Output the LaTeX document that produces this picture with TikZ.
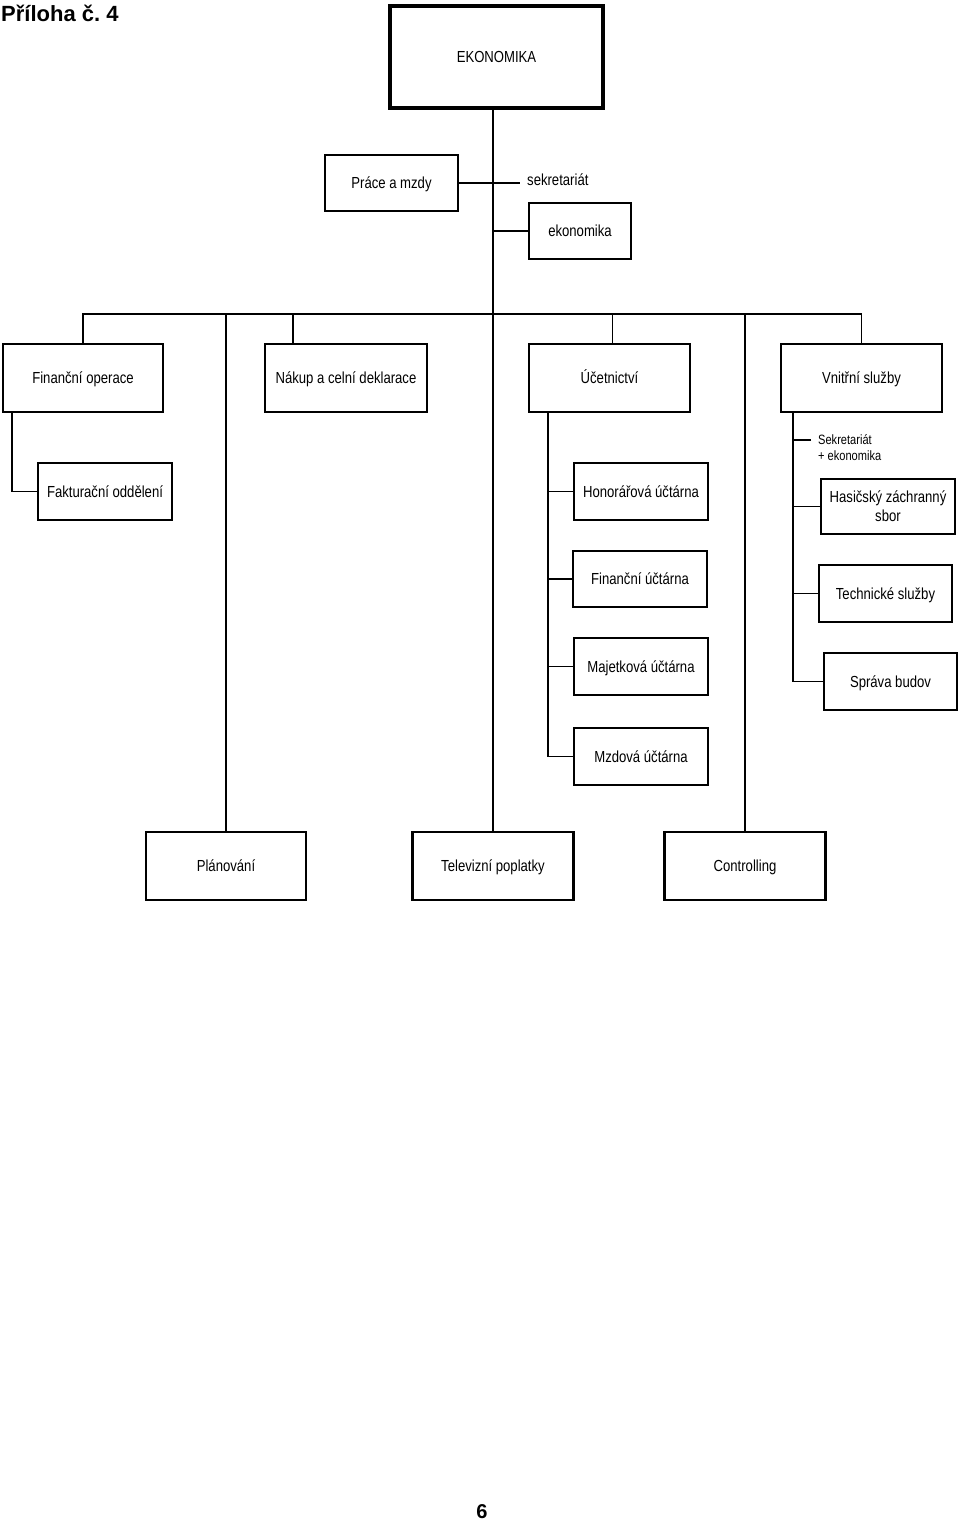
\documentclass[tikz,border=0pt]{standalone}
\usepackage{fontspec}
\setmainfont{Liberation Sans}[FakeStretch=0.82]
\newfontfamily\widefont{Liberation Sans}
\usepackage{tikz}
\frenchspacing

\tikzset{
    unit/.style={draw,line width=2.4pt,inner sep=0pt,align=center,text height=11.5pt,text depth=0pt,font=\fontsize{16}{19}\selectfont},
    link/.style={line width=1.4pt},
}

\begin{document}
\begin{tikzpicture}[x=1pt,y=-1pt]
    \useasboundingbox (0,0) rectangle (960,1523);
    \node[anchor=base west,inner sep=0pt,font=\widefont\bfseries\fontsize{22}{26}\selectfont] (title) at (1,21) {Příloha č. 4};
    \node[unit,line width=4pt,minimum width=213pt,minimum height=102pt] (eko) at (496.5,57) {EKONOMIKA};
    \node[unit,minimum width=133pt,minimum height=56pt] (prace) at (391.5,183) {Práce a mzdy};
    \node[anchor=west,inner sep=7pt,font=\fontsize{16}{19}\selectfont] (sekr) at (520,180) {sekretariát};
    \node[unit,minimum width=102pt,minimum height=56pt] (ekon) at (580,231) {ekonomika};
    \node[unit,minimum width=160pt,minimum height=68pt] (finop) at (83,378) {Finanční operace};
    \node[unit,minimum width=162pt,minimum height=68pt] (nakup) at (346,378) {Nákup a celní deklarace};
    \node[unit,minimum width=161pt,minimum height=68pt] (ucet) at (609.5,378) {Účetnictví};
    \node[unit,minimum width=161pt,minimum height=68pt] (vnitr) at (861.5,378) {Vnitřní služby};
    \node[unit,minimum width=134pt,minimum height=57pt] (fakt) at (105,491.5) {Fakturační oddělení};
    \node[unit,minimum width=134pt,minimum height=57pt] (honor) at (641,491.5) {Honorářová účtárna};
    \node[unit,minimum width=134pt,minimum height=56pt] (finu) at (640,579) {Finanční účtárna};
    \node[unit,minimum width=134pt,minimum height=57pt] (majet) at (641,666.5) {Majetková účtárna};
    \node[unit,minimum width=134pt,minimum height=57pt] (mzd) at (641,756.5) {Mzdová účtárna};
    \node[anchor=north west,inner sep=0pt,align=left,font=\fontsize{13.5}{16}\selectfont] (sekr2) at (818,434) {Sekretariát\\+ ekonomika};
    \node[unit,text height=30.5pt,minimum width=134pt,minimum height=55pt] (hasic) at (888,506.5) {Hasičský záchranný\\sbor};
    \node[unit,minimum width=133pt,minimum height=57pt] (tech) at (885.5,593.5) {Technické služby};
    \node[unit,minimum width=133pt,minimum height=57pt] (sprava) at (890.5,681.5) {Správa budov};
    \node[unit,minimum width=160pt,minimum height=68pt] (plan) at (226,866) {Plánování};
    \node[unit,minimum width=161pt,minimum height=68pt] (tv) at (493,866) {Televizní poplatky};
    \node[unit,minimum width=161pt,minimum height=68pt] (ctrl) at (745,866) {Controlling};
    \node[font=\widefont\bfseries\fontsize{20}{24}\selectfont] (page) at (482,1512) {6};

    \coordinate (bus) at (0,314);
    \coordinate (ucbr) at ([xshift=20pt]ucet.south west);
    \coordinate (vsbr) at ([xshift=13pt]vnitr.south west);
    \coordinate (tick) at ([xshift=-7pt,yshift=-6pt]sekr2.north west);
    \draw[link] (eko.south -| tv.north) -- (tv.north);
    \draw[link] (prace.east) -- (prace.east -| sekr.west);
    \draw[link] (ekon.west) -- (ekon.west -| tv.north);
    \draw[link] (finop.north) |- (bus -| vnitr.north) -- (vnitr.north);
    \draw[link] ([xshift=-53pt]nakup.north) -- ([xshift=-53pt]nakup.north |- bus);
    \draw[link] ([xshift=3pt]ucet.north) -- ([xshift=3pt]ucet.north |- bus);
    \foreach \n in {plan,ctrl}
        \draw[link] (\n.north) -- (\n.north |- bus);
    \draw[link] ([xshift=10pt]finop.south west) |- (fakt.west);
    \draw[link] (ucbr) |- (mzd.west);
    \foreach \n in {honor,finu,majet}
        \draw[link] (\n.west) -- (\n.west -| ucbr);
    \draw[link] (vsbr) |- (sprava.west);
    \foreach \n in {hasic,tech}
        \draw[link] (\n.west) -- (\n.west -| vsbr);
    \draw[link] (tick) -- (tick -| vsbr);
\end{tikzpicture}
\end{document}
